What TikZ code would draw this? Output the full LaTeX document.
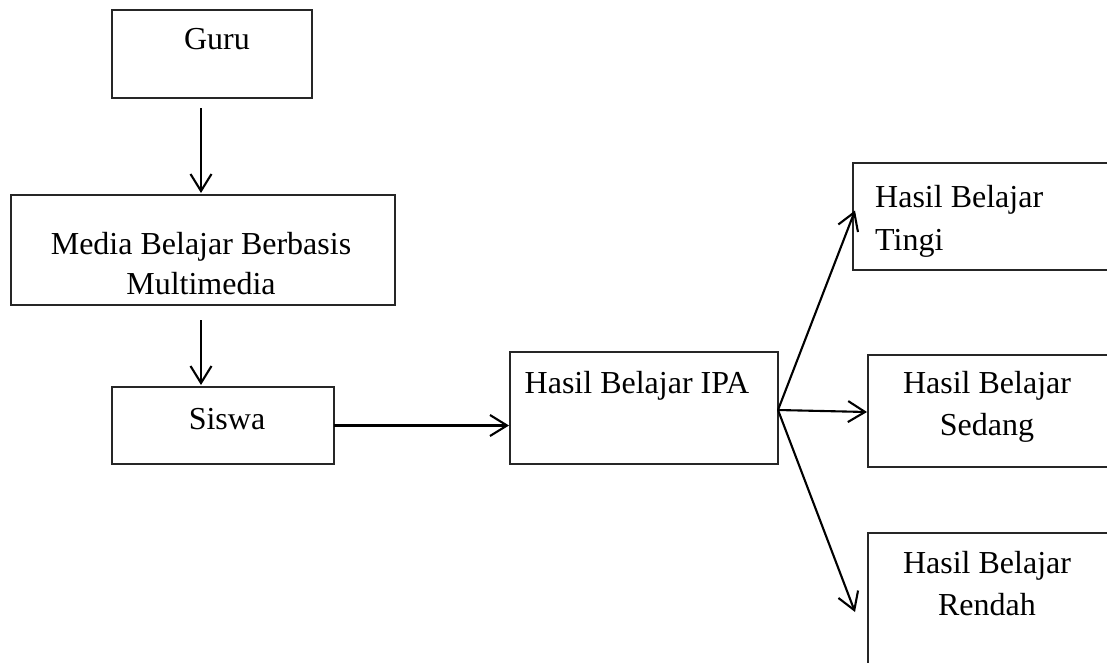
\documentclass[tikz,border=0pt]{standalone}
\usepackage{fontspec}
\setmainfont{Liberation Serif}
\usetikzlibrary{arrows.meta,calc}
\begin{document}
\begin{tikzpicture}[x=1pt,y=-1pt,
  box/.style={draw=black!85, line width=1.3pt, inner sep=0pt, outer sep=0pt},
  lbl/.style={inner sep=0pt, anchor=north, font=\fontsize{32}{42}\selectfont},
  arr/.style={draw=black, line width=2.1pt, -{Straight Barb[length=17pt,width=21pt,line width=2.1pt]}}
]
\useasboundingbox (0,0) rectangle (1107,662);
\clip (0,0) rectangle (1107,662);
% boxes
\node[box, minimum width=200pt, minimum height=88pt] (guru) at (212,54) {};
\node[box, minimum width=384pt, minimum height=110pt] (media) at (203,250) {};
\node[box, minimum width=222pt, minimum height=77pt] (siswa) at (223,425.5) {};
\node[box, minimum width=268pt, minimum height=112pt] (ipa) at (644,408) {};
\node[box, minimum width=272pt, minimum height=107pt] (tingi) at (989,216.5) {};
\node[box, minimum width=257pt, minimum height=112pt] (sedang) at (996.5,411) {};
\node[box, minimum width=257pt, minimum height=147pt] (rendah) at (996.5,606.5) {};
% labels
\node[lbl] (tguru) at (217,28) {Guru};
\node[lbl, align=center, font=\fontsize{32}{40}\selectfont] (tmedia) at (201,232) {Media Belajar Berbasis\\Multimedia};
\node[lbl] (tsiswa) at (227,408) {Siswa};
\node[lbl] (tipa) at (637,371) {Hasil Belajar IPA};
\node[lbl, anchor=north west, align=left, font=\fontsize{32}{43}\selectfont] (ttingi) at (875,185) {Hasil Belajar\\Tingi};
\node[lbl, align=center] (tsedang) at (987,371) {Hasil Belajar\\Sedang};
\node[lbl, align=center] (trendah) at (987,551) {Hasil Belajar\\Rendah};
% connectors
\draw[arr] ($(media.north |- guru.south)+(-2,10)$) -- ($(media.north)+(-2,-2)$);
\draw[arr] ($(media.south)+(-2,15)$) -- ($(siswa.north -| media.south)+(-2,-2)$);
\draw[arr] (siswa.east) -- ($(ipa.west |- siswa.east)+(-1,0)$);
\draw[arr] ($(ipa.east)+(0,2)$) -- ($(tingi.west)+(2,-6)$);
\draw[arr] ($(ipa.east)+(0,2)$) -- ($(sedang.west)+(-1,1)$);
\draw[arr] ($(ipa.east)+(0,2)$) -- ($(rendah.west)+(-13,5.5)$);
\end{tikzpicture}
\end{document}
